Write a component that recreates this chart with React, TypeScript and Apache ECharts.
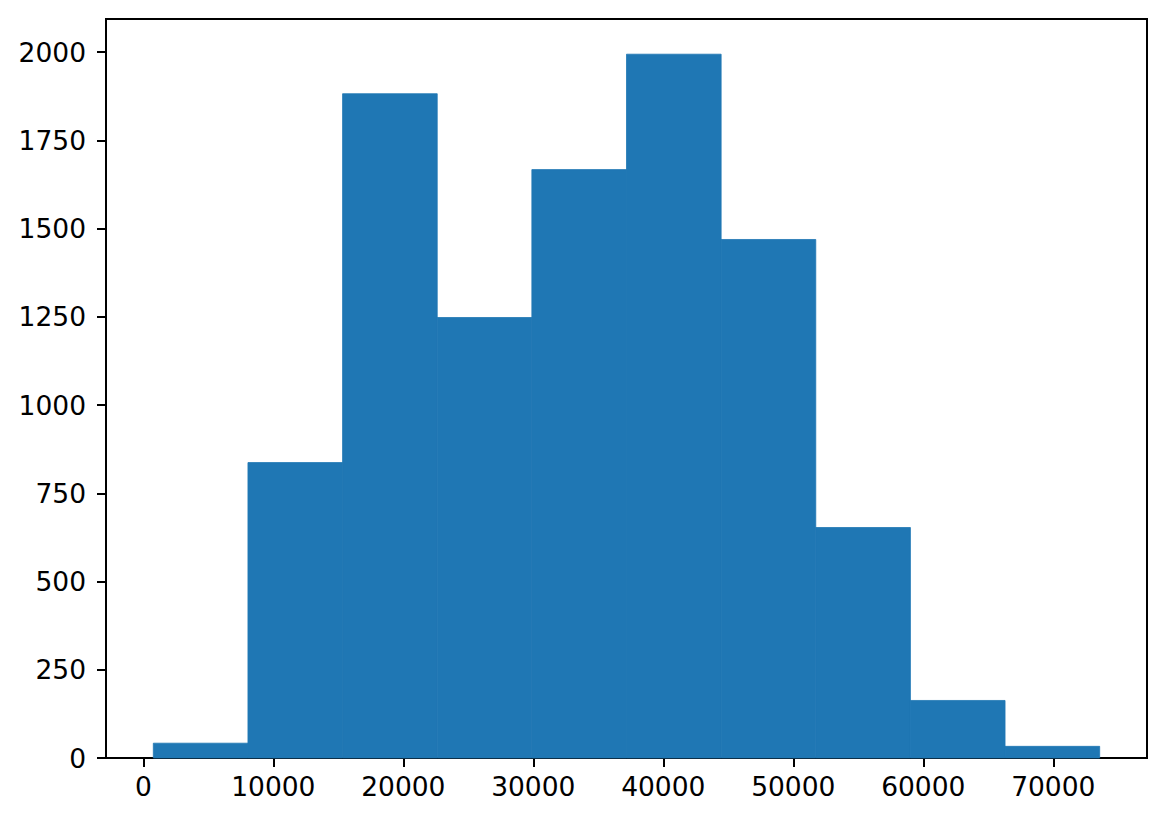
import React, { useEffect, useRef } from "react";
import * as echarts from "echarts";

// Histogram bin edges (10 bins) and counts
const binEdges = [769, 8049, 15329, 22609, 29889, 37169, 44449, 51729, 59009, 66289, 73569];
const counts = [42, 837, 1882, 1248, 1667, 1994, 1469, 653, 163, 33];
const xTicks = [0, 10000, 20000, 30000, 40000, 50000, 60000, 70000];
const yTicks = [0, 250, 500, 750, 1000, 1250, 1500, 1750, 2000];

export default function App() {
  const ref = useRef<HTMLDivElement>(null);
  useEffect(() => {
    if (!ref.current) return;
    const chart = echarts.init(ref.current, null, { renderer: "svg" });
    const span = binEdges[binEdges.length - 1] - binEdges[0];
    const xMin = binEdges[0] - span * 0.05;
    const xMax = binEdges[binEdges.length - 1] + span * 0.05;
    const yMax = Math.max(...counts) * 1.05;
    const data = counts.map((c, i) => [binEdges[i], binEdges[i + 1], c]);
    const font = "DejaVu Sans";
    chart.setOption({
      animation: false,
      backgroundColor: "#ffffff",
      grid: {
        left: 106,
        right: 19,
        top: 19,
        bottom: 64,
        show: true,
        borderColor: "#000000",
        borderWidth: 2,
        backgroundColor: "transparent",
        containLabel: false,
      },
      xAxis: {
        type: "value",
        min: xMin,
        max: xMax,
        splitLine: { show: false },
        axisLine: { show: true, onZero: false, lineStyle: { color: "#000", width: 2 } },
        axisTick: {
          show: true,
          length: 9,
          lineStyle: { color: "#000", width: 2 },
          customValues: xTicks,
        },
        axisLabel: {
          color: "#000",
          fontSize: 26.5,
          fontFamily: font,
          margin: 15,
          customValues: xTicks,
          formatter: (v: number) => String(v),
        },
      },
      yAxis: {
        type: "value",
        min: 0,
        max: yMax,
        splitLine: { show: false },
        axisLine: { show: true, onZero: false, lineStyle: { color: "#000", width: 2 } },
        axisTick: {
          show: true,
          length: 9,
          lineStyle: { color: "#000", width: 2 },
          customValues: yTicks,
        },
        axisLabel: {
          color: "#000",
          fontSize: 26.5,
          fontFamily: font,
          margin: 20,
          customValues: yTicks,
          formatter: (v: number) => String(v),
        },
      },
      series: [
        {
          type: "custom",
          data,
          encode: { x: [0, 1], y: 2 },
          renderItem: (params: any, api: any) => {
            const p0 = api.coord([api.value(0), api.value(2)]);
            const p1 = api.coord([api.value(1), 0]);
            return {
              type: "rect",
              shape: { x: p0[0], y: p0[1], width: p1[0] - p0[0], height: p1[1] - p0[1] },
              style: { fill: "#1f77b4", stroke: "#1f77b4", lineWidth: 0.8 },
            };
          },
        },
      ],
    });
    return () => chart.dispose();
  }, []);
  return (
    <div
      ref={ref}
      style={{ position: "absolute", left: 0, top: 0, width: 1166, height: 822 }}
    />
  );
}
